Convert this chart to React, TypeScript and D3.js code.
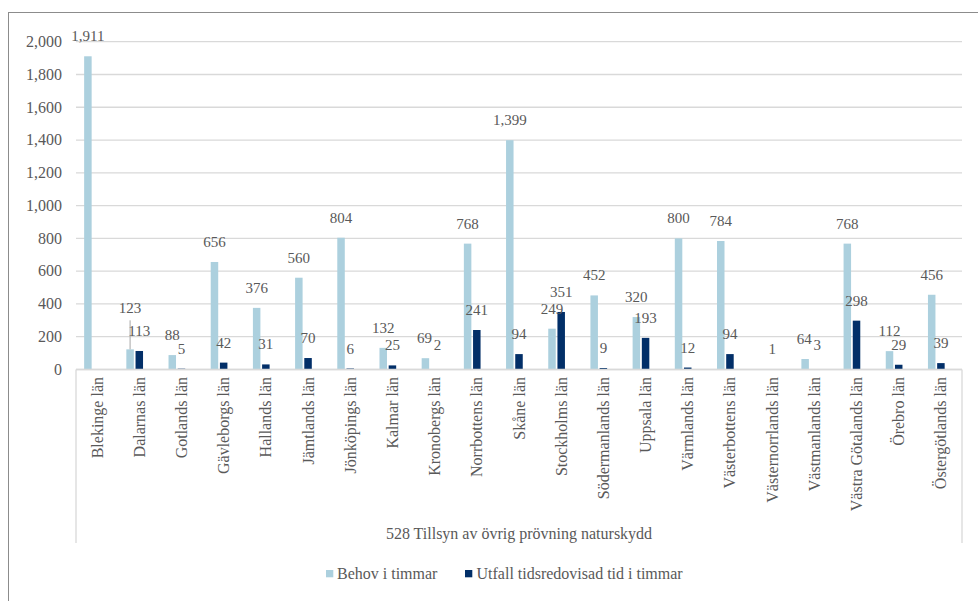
import React from "react";
import * as d3 from "d3";

const categories = [
  "Blekinge län", "Dalarnas län", "Gotlands län", "Gävleborgs län", "Hallands län",
  "Jämtlands län", "Jönköpings län", "Kalmar län", "Kronobergs län", "Norrbottens län",
  "Skåne län", "Stockholms län", "Södermanlands län", "Uppsala län", "Värmlands län",
  "Västerbottens län", "Västernorrlands län", "Västmanlands län", "Västra Götalands län",
  "Örebro län", "Östergötlands län",
];
const behov: (number | null)[] = [
  1911, 123, 88, 656, 376, 560, 804, 132, 69, 768, 1399, 249, 452, 320, 800, 784, null, 64, 768, 112, 456,
];
const utfall: (number | null)[] = [
  null, 113, 5, 42, 31, 70, 6, 25, 2, 241, 94, 351, 9, 193, 12, 94, 1, 3, 298, 29, 39,
];
const seriesNames = ["Behov i timmar", "Utfall tidsredovisad tid i timmar"];
const groupLabel = "528 Tillsyn av övrig prövning naturskydd";
const yTicks = [0, 200, 400, 600, 800, 1000, 1200, 1400, 1600, 1800, 2000];

const COLORS = ["#ACD0DE", "#022F68"];
const TEXT = "#595959";
const GRID = "#D9D9D9";
const FONT = "Liberation Serif, DejaVu Serif, serif";

const W = 978, H = 601;
const plotL = 76, plotR = 962, plotT = 41.7, plotB = 369.5;
const axisBoxBottom = 543;

export default function App() {
  const x = d3.scaleBand<string>().domain(categories).range([plotL, plotR]).padding(0);
  const y = d3.scaleLinear().domain([0, 2000]).range([plotB, plotT]);
  const groupW = 25.9;
  const x1 = d3.scaleBand<number>().domain([0, 1, 2]).range([-groupW / 2, groupW / 2]).paddingInner(0.185);
  const fmt = d3.format(",");
  const series = [behov, utfall];

  type Lbl = { s: number; i: number; v: number; cx: number; base: number; w: number; top: number; moved: boolean };
  const charW = (t: string) => t.split("").reduce((a, c) => a + (c === "," ? 3.75 : 7.5), 0);
  const labels: Lbl[] = [];
  categories.forEach((c, i) => {
    const row: Lbl[] = [];
    series.forEach((arr, s) => {
      const v = arr[i];
      if (v == null) return;
      const cx = (x(c) as number) + x.bandwidth() / 2 + (x1(s) as number) + x1.bandwidth() / 2;
      const top = y(v);
      row.push({ s, i, v, cx, base: top - 15, w: charW(fmt(v)), top, moved: false });
    });
    if (row.length === 2) {
      const [a, b] = row;
      const hOverlap = Math.min(a.cx + a.w / 2, b.cx + b.w / 2) - Math.max(a.cx - a.w / 2, b.cx - b.w / 2);
      const vDiff = Math.abs(a.base - b.base);
      if (hOverlap > 3 && vDiff < 10.5) {
        const lower = a.base > b.base ? a : b;
        const upper = lower === a ? b : a;
        const newBase = Math.min(upper.base, lower.base) - 21;
        if (upper === a) { a.base = newBase; a.moved = true; } else { b.base = newBase; b.moved = true; }
      } else if (hOverlap > -2 && vDiff < 12) {
        const lower = a.base > b.base ? a : b;
        const upper = lower === a ? b : a;
        lower.cx += 3;
        upper.cx -= 1;
        lower.base -= 4;
      }
    }
    labels.push(...row);
  });

  return (
    <svg width={W} height={H} fontFamily={FONT} style={{ position: "absolute", left: 0, top: 0, background: "#fff" }}>
      <rect x={8.5} y={12.5} width={980} height={600} fill="#fff" stroke="#8C8C8C" strokeWidth={1} />
      {yTicks.map((t) => (
        <line key={"g" + t} x1={plotL} x2={plotR} y1={y(t)} y2={y(t)} stroke={GRID} strokeWidth={1.3} />
      ))}
      {yTicks.map((t) => (
        <text key={"t" + t} x={62} y={y(t) + 5.3} textAnchor="end" fontSize={16} fill={TEXT} fontFamily={FONT}>
          {fmt(t)}
        </text>
      ))}
      {series.map((arr, s) =>
        categories.map((c, i) => {
          const v = arr[i];
          if (v == null) return null;
          const bx = (x(c) as number) + x.bandwidth() / 2 + (x1(s) as number);
          return (
            <rect key={`b${s}-${i}`} x={bx} y={y(v)} width={x1.bandwidth()} height={Math.max(0, y(0) - y(v))} fill={COLORS[s]} />
          );
        })
      )}
      <line x1={plotL} x2={plotR} y1={plotB} y2={plotB} stroke={GRID} strokeWidth={1.3} />
      <line x1={plotL} x2={plotL} y1={plotB} y2={axisBoxBottom} stroke={GRID} strokeWidth={1.3} />
      <line x1={plotR} x2={plotR} y1={plotB} y2={axisBoxBottom} stroke={GRID} strokeWidth={1.3} />
      {labels.map((l) => (
        <g key={`l${l.s}-${l.i}`}>
          {l.moved && (
            <line x1={l.cx} x2={l.cx} y1={l.base + 7} y2={l.top} stroke="#A6A6A6" strokeWidth={1} />
          )}
          <text x={l.cx} y={l.base} textAnchor="middle" fontSize={15} fill={TEXT} fontFamily={FONT}>
            {fmt(l.v)}
          </text>
        </g>
      ))}
      {categories.map((c) => {
        const cx = (x(c) as number) + x.bandwidth() / 2;
        return (
          <text key={"c" + c} transform={`translate(${cx + 5.5},377) rotate(-90)`} textAnchor="end" fontSize={16} fill={TEXT} fontFamily={FONT}>
            {c}
          </text>
        );
      })}
      <text x={(plotL + plotR) / 2} y={539} textAnchor="middle" fontSize={16} fill={TEXT} fontFamily={FONT}>
        {groupLabel}
      </text>
      <g>
        <rect x={326} y={570} width={7.3} height={7.3} fill={COLORS[0]} />
        <text x={337} y={578.5} fontSize={16} fill={TEXT} fontFamily={FONT}>{seriesNames[0]}</text>
        <rect x={465} y={570} width={7.3} height={7.3} fill={COLORS[1]} />
        <text x={476.5} y={578.5} fontSize={16} fill={TEXT} fontFamily={FONT}>{seriesNames[1]}</text>
      </g>
    </svg>
  );
}
